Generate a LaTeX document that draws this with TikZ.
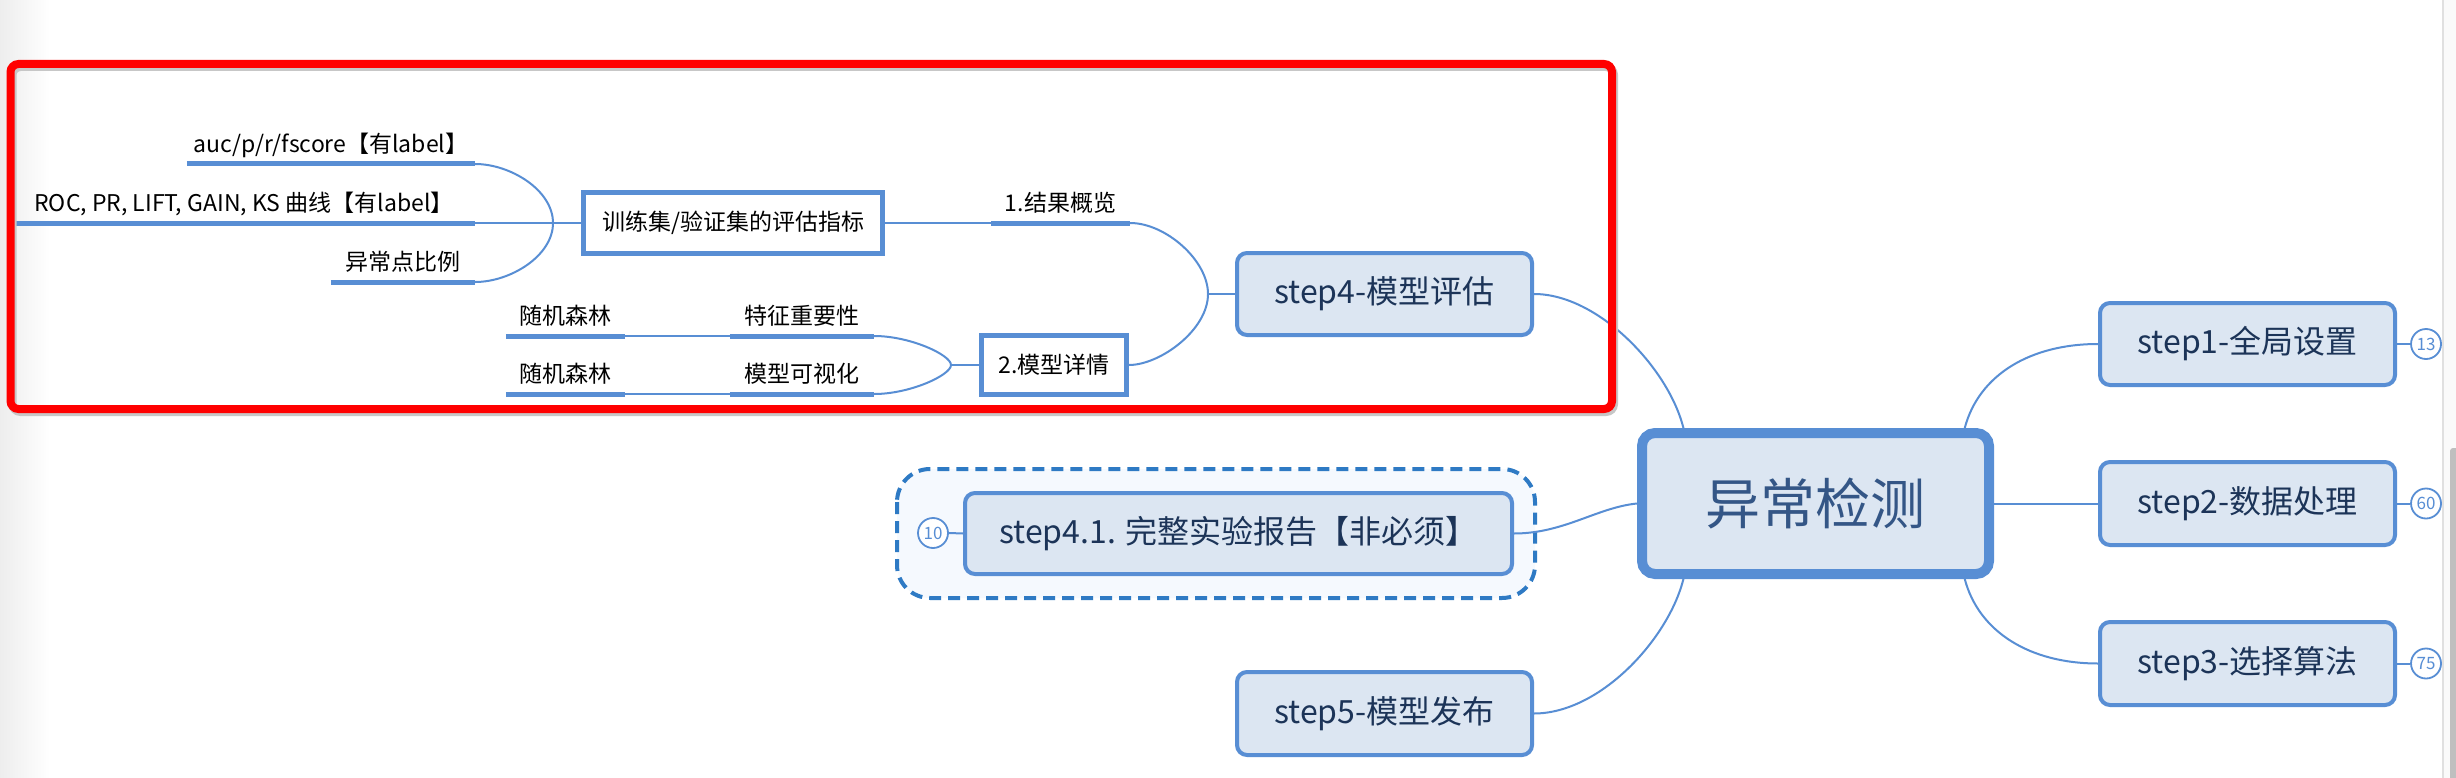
\documentclass[tikz,border=0pt]{standalone}
\usepackage{fontspec}
\newfontfamily\cjk{Noto Sans CJK SC}
\usetikzlibrary{calc}
\pgfdeclarelayer{back}
\pgfdeclarelayer{bg}
\pgfdeclarelayer{front}
\pgfsetlayers{back,bg,main,front}
\definecolor{bord}{RGB}{88,142,212}
\definecolor{boxfill}{RGB}{220,230,242}
\definecolor{steptext}{RGB}{28,52,88}
\definecolor{centertext}{RGB}{52,86,134}
\definecolor{dashc}{RGB}{46,122,196}
\definecolor{regionfill}{RGB}{245,249,254}
\definecolor{conn}{RGB}{88,142,212}
\definecolor{redframe}{RGB}{255,0,0}
\tikzset{
  lbl/.style={font=\cjk\fontsize{23}{28}\selectfont, inner xsep=0pt, inner ysep=0pt, text depth=11pt, anchor=south, text=black},
  bar/.style={line width=5pt, draw=bord},
  link/.style={draw=conn, line width=2pt},
  wbox/.style={draw=bord, line width=5pt, fill=white, font=\cjk\fontsize{23}{28}\selectfont, inner sep=0pt, text=black},
  stepbox/.style={draw=bord, fill=boxfill, line width=4pt, rounded corners=10pt, minimum width=295pt, minimum height=82pt, inner sep=0pt, font=\cjk\fontsize{32}{38}\selectfont, text=steptext},
  rootbox/.style={draw=bord, fill=boxfill, line width=10pt, rounded corners=13pt, minimum width=347pt, minimum height=141pt, inner sep=0pt, font=\cjk\fontsize{55}{66}\selectfont, text=centertext},
  badge/.style={circle, draw=bord, fill=white, line width=1.8pt, minimum size=30pt, inner sep=0pt, font=\cjk\fontsize{17}{20}\selectfont, text=bord}
}
\begin{document}
\begin{tikzpicture}[x=1pt,y=-1pt]
\useasboundingbox (0,0) rectangle (2456,778);
\begin{pgfonlayer}{back}
  \fill[white] (0,0) rectangle (2456,778);
  \shade[left color=black!7, right color=white] (0,0) rectangle (50,778);
  \fill[black!2] (2443,0) rectangle (2456,778);
  \draw[black!12, line width=2pt] (2443,0) -- (2443,778);
  \fill[black!25, rounded corners=3pt] (2450,448) rectangle (2462,790);
  % optional region around step4.1
  \draw[dashc, line width=4pt, dash pattern=on 12pt off 7pt, fill=regionfill, rounded corners=33pt] (897,469) rectangle (1535,598);
\end{pgfonlayer}

% ---- left branch labels ----
\node[lbl, minimum width=288pt] (auc) at (331,164) {auc/p/r/fscore【有label】};
\node[lbl, minimum width=462pt] (roc) at (244,223) {ROC, PR, LIFT, GAIN, KS 曲线【有label】};
\node[lbl, minimum width=144pt] (ratio) at (403,282) {异常点比例};
\node[wbox, minimum width=299pt, minimum height=61pt] (metric) at (733,223) {训练集/验证集的评估指标};
\node[lbl, minimum width=139pt] (overview) at (1060.5,223) {1.结果概览};
\node[lbl, minimum width=119pt] (rfa) at (565.5,336) {随机森林};
\node[lbl, minimum width=144pt] (feat) at (802,336) {特征重要性};
\node[lbl, minimum width=119pt] (rfb) at (565.5,394) {随机森林};
\node[lbl, minimum width=144pt] (vis) at (802,394) {模型可视化};
\node[wbox, minimum width=145pt, minimum height=59pt] (detail) at (1054,365) {2.模型详情};

\foreach \n in {auc,roc,ratio,overview,rfa,feat,rfb,vis}
  \draw[bar] (\n.south west) -- (\n.south east);

% ---- step nodes ----
\node[stepbox] (step4) at (1384.5,294) {step4-模型评估};
\node[stepbox, minimum width=547pt, minimum height=81pt] (step41) at (1238.5,533.5) {step4.1. 完整实验报告【非必须】};
\node[stepbox, minimum height=83pt] (step5) at (1384.5,713.5) {step5-模型发布};
\node[rootbox] (root) at (1815.5,503.5) {异常检测};
\node[stepbox] (step1) at (2247.5,344) {step1-全局设置};
\node[stepbox, minimum height=83pt] (step2) at (2247.5,503.5) {step2-数据处理};
\node[stepbox, minimum height=83pt] (step3) at (2247.5,663.5) {step3-选择算法};
\node[badge] (b13) at (2426,344) {13};
\node[badge] (b60) at (2426,503.5) {60};
\node[badge] (b75) at (2426,663.5) {75};
\node[badge] (b10) at (933,533) {10};

\coordinate (j1) at (553,223);
\coordinate (j2) at (1208,294);
\coordinate (j3) at (951,365);
\coordinate (rtl) at ($(root.north west)!0.13!(root.north east)$);
\coordinate (rtr) at ($(root.north west)!0.918!(root.north east)$);
\coordinate (rbl) at ($(root.south west)!0.13!(root.south east)$);
\coordinate (rbr) at ($(root.south west)!0.918!(root.south east)$);

\begin{pgfonlayer}{bg}
  \draw[link] (auc.south east) .. controls +(35,0) and +(0,-33) .. (j1);
  \draw[link] (ratio.south east) .. controls +(35,0) and +(0,33) .. (j1);
  \draw[link] (roc.south east) -- (metric.west);
  \draw[link] (metric.east) -- (overview.south west);
  \draw[link] (overview.south east) .. controls +(35,0) and +(0,-34) .. (j2);
  \draw[link] (detail.east) .. controls +(31,0) and +(0,36) .. (j2);
  \draw[link] (j2) -- (step4.west);
  \draw[link] (rfa.south east) -- (feat.south west);
  \draw[link] (rfb.south east) -- (vis.south west);
  \draw[link] (feat.south east) .. controls +(36,0) and +(0,-10) .. (j3);
  \draw[link] (vis.south east) .. controls +(36,0) and +(0,10) .. (j3);
  \draw[link] (j3) -- (detail.west);
  \draw[link] (step4.east) .. controls +(64,0) and +(-15,-60) .. (rtl);
  \draw[link] (step5.east) .. controls +(66,0) and +(-15,60) .. (rbl);
  \draw[link] (step41.east) .. controls +(50,0) and +(-40,4) .. (root.west);
  \draw[link] (rtr) .. controls +(14,-53) and +(-68,0) .. (step1.west);
  \draw[link] (root.east) -- (step2.west);
  \draw[link] (rbr) .. controls +(14,53) and +(-68,0) .. (step3.west);
  \draw[link] (step1.east) -- (b13.west);
  \draw[link] (step2.east) -- (b60.west);
  \draw[link] (step3.east) -- (b75.west);
  \draw[link] (step41.west) -- (b10.east);
\end{pgfonlayer}

\begin{pgfonlayer}{front}
  \draw[black!22, line width=8pt, rounded corners=8pt] (12.5,67) rectangle (1614,412);
  \draw[redframe, line width=8pt, rounded corners=8pt] (10.5,64) rectangle (1612,409);
\end{pgfonlayer}
\end{tikzpicture}
\end{document}
